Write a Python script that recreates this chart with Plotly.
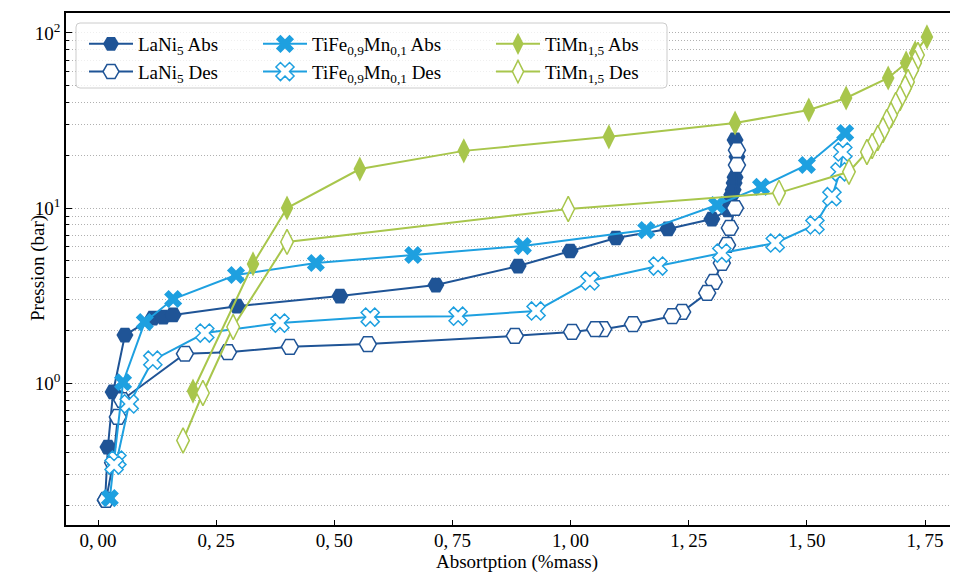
import plotly.graph_objects as go

# ---------------- data ----------------
lani5_abs_x = [0.015, 0.021, 0.032, 0.057, 0.116, 0.138, 0.159, 0.294, 0.512, 0.715, 0.889, 0.999,
               1.096, 1.206, 1.299, 1.333, 1.337, 1.341, 1.344, 1.346, 1.348, 1.352, 1.348]
lani5_abs_y = [0.214, 0.431, 0.889, 1.88, 2.35, 2.38, 2.45, 2.75, 3.14, 3.63, 4.66, 5.68,
               6.74, 7.59, 8.65, 9.74, 10.7, 11.9, 12.7, 13.9, 15.0, 19.6, 24.5]

lani5_des_x = [1.352, 1.352, 1.348, 1.337, 1.331, 1.320, 1.303, 1.289, 1.236, 1.215, 1.132, 1.069,
               1.052, 1.003, 0.882, 0.571, 0.406, 0.275, 0.184, 0.051, 0.042, 0.032, 0.017]
lani5_des_y = [21.4, 17.6, 10.0, 7.69, 6.15, 4.85, 3.78, 3.27, 2.55, 2.41, 2.17, 2.03,
               2.03, 1.96, 1.86, 1.67, 1.61, 1.50, 1.47, 0.80, 0.64, 0.35, 0.215]

tife_abs_x = [0.025, 0.053, 0.099, 0.159, 0.292, 0.461, 0.667, 0.899, 1.160, 1.310, 1.403, 1.500, 1.581]
tife_abs_y = [0.22, 1.01, 2.23, 3.02, 4.14, 4.85, 5.39, 6.06, 7.48, 10.4, 13.2, 17.6, 26.8]

tife_des_x = [1.576, 1.570, 1.553, 1.517, 1.433, 1.320, 1.185, 1.041, 0.927, 0.762, 0.576, 0.385,
              0.226, 0.116, 0.066, 0.040, 0.034]
tife_des_y = [20.9, 16.1, 11.6, 8.0, 6.31, 5.53, 4.66, 3.83, 2.58, 2.41, 2.38, 2.20,
              1.93, 1.35, 0.76, 0.363, 0.34]

timn_abs_x = [0.201, 0.328, 0.400, 0.554, 0.774, 1.081, 1.348, 1.504, 1.583, 1.672, 1.710, 1.729, 1.754]
timn_abs_y = [0.90, 4.79, 10.0, 16.7, 21.2, 25.5, 30.6, 36.3, 42.5, 55.3, 67.4, 76.9, 94.9]

timn_des_x = [1.735, 1.729, 1.723, 1.714, 1.708, 1.697, 1.688, 1.678, 1.669, 1.661, 1.650, 1.638,
              1.627, 1.589, 1.441, 0.995, 0.400, 0.286, 0.222, 0.180]
timn_des_y = [74.8, 67.4, 61.5, 52.5, 48.5, 42.5, 38.8, 34.0, 31.0, 27.9, 25.1, 22.6,
              20.9, 16.1, 12.2, 9.87, 6.40, 2.09, 0.877, 0.47]

x_ticks = [0.0, 0.25, 0.5, 0.75, 1.0, 1.25, 1.5, 1.75]
x_tick_labels = ["0,\u200900", "0,\u200925", "0,\u200950", "0,\u200975",
                 "1,\u200900", "1,\u200925", "1,\u200950", "1,\u200975"]
y_ticks = [1, 10, 100]
y_tick_labels = ["10<sup>0</sup>", "10<sup>1</sup>", "10<sup>2</sup>"]

# ---------------- style ----------------
C_LANI = "#1f5496"
C_TIFE = "#1ea0e0"
C_TIMN = "#a8c64c"
FONT = "Liberation Serif"
FS = 19
GRID = "#b0b0b0"
GRID_DASH = "1px,2px"

fig = go.Figure()

def add(x, y, name, color, symbol, filled, legend, size):
    fig.add_trace(go.Scatter(
        x=x, y=y, name=name, mode="lines+markers",
        line=dict(color=color, width=2),
        marker=dict(symbol=symbol, size=size,
                    color=color if filled else "white",
                    line=dict(color=color, width=0 if filled else 1.5)),
        legend=legend,
    ))

add(lani5_abs_x, lani5_abs_y, "LaNi<sub>5</sub> Abs", C_LANI, "hexagon2", True, "legend", 17)
add(lani5_des_x, lani5_des_y, "LaNi<sub>5</sub> Des", C_LANI, "hexagon2", False, "legend", 17)
add(tife_abs_x, tife_abs_y, "TiFe<sub>0,9</sub>Mn<sub>0,1</sub> Abs", C_TIFE, "x", True, "legend2", 16)
add(tife_des_x, tife_des_y, "TiFe<sub>0,9</sub>Mn<sub>0,1</sub> Des", C_TIFE, "x", False, "legend2", 16)
add(timn_abs_x, timn_abs_y, "TiMn<sub>1,5</sub> Abs", C_TIMN, "diamond-tall", True, "legend3", 18)
add(timn_des_x, timn_des_y, "TiMn<sub>1,5</sub> Des", C_TIMN, "diamond-tall", False, "legend3", 18)

# page is shown with an 8px body margin
OFF = 8
W, H = 958 - OFF, 572 - OFF
PL, PR, PT, PB = 66, 956, 13, 525          # plot area in page pixels
L, T = PL - OFF, PT - OFF
R, B = W - (PR - OFF), H - (PB - OFF)
pw, ph = PR - PL, PB - PT

def px(xp):
    return (xp - PL) / pw

def py(yp):
    return (PB - yp) / ph

# rounded legend frame
x0, x1, y0, y1, r = 76, 667, 23, 88, 4
path = (f"M{px(x0 + r)},{py(y0)} L{px(x1 - r)},{py(y0)} Q{px(x1)},{py(y0)} {px(x1)},{py(y0 + r)} "
        f"L{px(x1)},{py(y1 - r)} Q{px(x1)},{py(y1)} {px(x1 - r)},{py(y1)} "
        f"L{px(x0 + r)},{py(y1)} Q{px(x0)},{py(y1)} {px(x0)},{py(y1 - r)} "
        f"L{px(x0)},{py(y0 + r)} Q{px(x0)},{py(y0)} {px(x0 + r)},{py(y0)} Z")

leg_common = dict(bgcolor="rgba(0,0,0,0)", borderwidth=0, font=dict(family=FONT, size=FS, color="black"),
                  xanchor="left", yanchor="top", tracegroupgap=0, itemwidth=44)

minor_vals = [m * 10 ** e for e in (-1, 0, 1) for m in range(2, 10)]

fig.update_layout(
    width=W, height=H,
    margin=dict(l=L, r=R, t=T, b=B, autoexpand=False),
    paper_bgcolor="white", plot_bgcolor="white",
    font=dict(family=FONT, size=FS, color="black"),
    showlegend=True,
    legend=dict(x=px(84), y=py(25), **leg_common),
    legend2=dict(x=px(258), y=py(25), **leg_common),
    legend3=dict(x=px(491), y=py(25), **leg_common),
    shapes=[dict(type="path", path=path, xref="paper", yref="paper", layer="above",
                 fillcolor="rgba(255,255,255,0.8)", line=dict(color="#cccccc", width=1))],
    annotations=[
        dict(text="Absortption (%mass)", xref="paper", yref="paper", x=px(517), y=py(562),
             xanchor="center", yanchor="middle", showarrow=False, font=dict(size=FS)),
        dict(text="Pression (bar)", xref="paper", yref="paper", x=px(38), y=py(268),
             xanchor="center", yanchor="middle", showarrow=False, textangle=-90, font=dict(size=FS)),
    ],
    xaxis=dict(
        range=[-0.0677, 1.8155], tickvals=x_ticks, ticktext=x_tick_labels,
        ticks="inside", ticklen=5, tickwidth=1, tickcolor="black",
        showline=True, linecolor="black", linewidth=1.5, mirror=True,
        showgrid=False, zeroline=False, ticklabelstandoff=-3,
        tickfont=dict(size=FS), automargin=False,
    ),
    yaxis=dict(
        type="log", range=[-0.811, 2.114], tickvals=y_ticks, ticktext=y_tick_labels,
        ticks="inside", ticklen=6, tickwidth=1, tickcolor="black",
        showline=True, linecolor="black", linewidth=1.5, mirror=True,
        showgrid=True, gridcolor=GRID, griddash=GRID_DASH, gridwidth=1,
        zeroline=False,
        minor=dict(tickvals=minor_vals, ticks="inside", ticklen=3, tickcolor="black",
                   showgrid=True, gridcolor=GRID, griddash=GRID_DASH, gridwidth=1),
        tickfont=dict(size=FS), automargin=False,
    ),
)

fig.write_html("out.html")
